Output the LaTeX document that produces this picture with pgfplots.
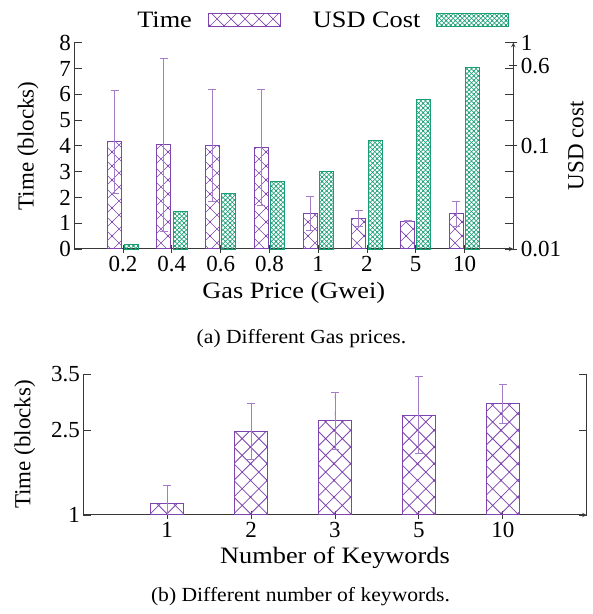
\documentclass[border=0pt]{standalone}
\usepackage{pgfplots}
\pgfplotsset{compat=1.18}
\usepackage{fontspec}
\setmainfont{Liberation Serif}
\newfontfamily\labelfont{Liberation Serif}[FakeStretch=1.12]
\newfontfamily\capfont{Liberation Serif}[FakeStretch=1.08]
\usetikzlibrary{patterns.meta}
\definecolor{tpurple}{HTML}{7E44B0}
\definecolor{tgreen}{HTML}{1A9E74}
\definecolor{axgray}{HTML}{383838}

\pgfdeclarepattern{name=bigxA, type=uncolored,
  bottom left={\pgfpoint{-1pt}{-1pt}}, top right={\pgfpoint{15pt}{15pt}},
  tile size={\pgfpoint{14pt}{14pt}},
  code={\pgfsetlinewidth{0.7pt}
    \pgfpathmoveto{\pgfpoint{-1pt}{-1pt}}\pgfpathlineto{\pgfpoint{15pt}{15pt}}
    \pgfpathmoveto{\pgfpoint{-1pt}{15pt}}\pgfpathlineto{\pgfpoint{15pt}{-1pt}}
    \pgfusepath{stroke}}}
\pgfdeclarepattern{name=bigxB, type=uncolored,
  bottom left={\pgfpoint{-1pt}{-1pt}}, top right={\pgfpoint{17.7pt}{17.7pt}},
  tile size={\pgfpoint{16.7pt}{16.7pt}},
  code={\pgfsetlinewidth{0.8pt}
    \pgfpathmoveto{\pgfpoint{-1pt}{-1pt}}\pgfpathlineto{\pgfpoint{17.7pt}{17.7pt}}
    \pgfpathmoveto{\pgfpoint{-1pt}{17.7pt}}\pgfpathlineto{\pgfpoint{17.7pt}{-1pt}}
    \pgfusepath{stroke}}}
\pgfdeclarepattern{name=smallx, type=uncolored,
  bottom left={\pgfpoint{-1pt}{-1pt}}, top right={\pgfpoint{5.6pt}{5.6pt}},
  tile size={\pgfpoint{4.6pt}{4.6pt}},
  code={\pgfsetlinewidth{0.55pt}
    \pgfpathmoveto{\pgfpoint{-1pt}{-1pt}}\pgfpathlineto{\pgfpoint{5.6pt}{5.6pt}}
    \pgfpathmoveto{\pgfpoint{-1pt}{5.6pt}}\pgfpathlineto{\pgfpoint{5.6pt}{-1pt}}
    \pgfusepath{stroke}}}

\pgfplotsset{
  wide legend/.style={legend image code/.code={\draw[##1] (0pt,-6.5pt) rectangle (72pt,6.5pt);}},
  myaxis/.style={
    scale only axis, anchor=south west,
    font=\fontsize{23}{27}\selectfont,
    tick label style={font=\fontsize{23}{27}\selectfont},
    label style={font=\fontsize{23.5}{28}\labelfont},
    axis line style={-, axgray, line width=1pt},
    tick align=inside, major tick length=8pt,
    tick style={axgray, line width=0.8pt},
  },
}

\begin{document}
\begin{tikzpicture}[x=1pt,y=1pt]
\path[use as bounding box] (0,0) rectangle (593,614);

% ---- (a) left axis: Time ----
\begin{axis}[myaxis,
  at={(74.3pt,365pt)}, width=439pt, height=206.3pt,
  xmin=-1, xmax=8, ymin=0, ymax=8,
  axis x line=bottom, axis y line=box,
  xtick={0,1,2,3,4,5,6,7}, xticklabels={0.2,0.4,0.6,0.8,1,2,5,10},
  ytick={0,1,2,3,4,5,6,7,8}, yticklabels={0,1,2,3,4,5,6,7,8},
  xlabel={Gas Price (Gwei)}, ylabel={Time (blocks)},
  xlabel style={at={(axis description cs:0.5,-0.213)}, anchor=center},
  ylabel style={at={(axis description cs:-0.1055,0.5)}, anchor=center},
]
\addplot[ybar, bar width=0.287, bar shift=0, draw=tpurple, line width=1pt,
  pattern=bigxA, pattern color=tpurple,
  error bars/.cd, y dir=both, y explicit,
  error bar style={draw=tpurple!70, line width=0.9pt},
  error mark=|,
  error mark options={draw=tpurple!70, line width=0.9pt, mark size=4pt}]
  table[x expr=\thisrow{x}-0.167, y=y, y error=e] {
x y e
0 4.15 1.98
1 4.04 3.36
2 4.01 2.17
3 3.95 2.25
4 1.37 0.67
5 1.20 0.31
6 1.08 0.02
7 1.37 0.49
};
\end{axis}

% ---- (a) right axis: USD cost ----
\begin{axis}[myaxis,
  at={(74.3pt,365pt)}, width=439pt, height=206.3pt,
  xmin=-1, xmax=8, ymode=log, ymin=0.01, ymax=1, log origin=infty,
  axis x line=none, axis y line=right,
  ytick={0.01,0.1,0.6,1}, yticklabels={0.01,0.1,0.6,1},
  ylabel={USD cost},
  ylabel style={at={(axis description cs:1.1428,0.5)}, anchor=center},
  legend columns=2, legend plot pos=right,
  legend style={draw=none, fill=none, at={(axis description cs:0.565,1.11)}, anchor=center,
    font=\fontsize{23.5}{28}\labelfont,
    /tikz/every odd column/.append style={column sep=14pt},
    /tikz/every even column/.append style={column sep=30pt}},
]
\addlegendimage{draw=tpurple, line width=1pt, pattern=bigxA, pattern color=tpurple, wide legend}
\addlegendentry{Time}
\addplot[ybar, bar width=0.287, bar shift=0, draw=tgreen, line width=1pt,
  pattern=smallx, pattern color=tgreen, wide legend]
  table[x expr=\thisrow{x}+0.167, y=c] {
x c
0 0.0110
1 0.0233
2 0.0342
3 0.0454
4 0.0562
5 0.113
6 0.283
7 0.573
};
\addlegendentry{USD Cost}
\end{axis}

% ---- (b) ----
\begin{axis}[myaxis,
  at={(83.3pt,99pt)}, width=503.4pt, height=141pt,
  xmin=-1, xmax=5, ymin=1, ymax=3.5,
  axis x line=bottom, axis y line=box,
  xtick={0,1,2,3,4}, xticklabels={1,2,3,5,10},
  ytick={1,2.5,3.5}, yticklabels={1,2.5,3.5},
  xlabel={Number of Keywords}, ylabel={Time (blocks)},
  xlabel style={at={(axis description cs:0.5,-0.305)}, anchor=center},
  ylabel style={at={(axis description cs:-0.116,0.5)}, anchor=center},
]
\addplot[ybar, bar width=0.4, bar shift=0, draw=tpurple, line width=1pt,
  pattern=bigxB, pattern color=tpurple,
  error bars/.cd, y dir=both, y explicit,
  error bar style={draw=tpurple!70, line width=0.9pt},
  error mark=|,
  error mark options={draw=tpurple!70, line width=0.9pt, mark size=4pt}]
  table[x=x, y=y, y error=e] {
x y e
0 1.21 0.32
1 2.48 0.49
2 2.67 0.505
3 2.77 0.68
4 2.97 0.34
};
\end{axis}

\node[font=\fontsize{20}{24}\capfont] at (301.5,275) {(a) Different Gas prices.};
\node[font=\fontsize{20}{24}\capfont] at (300.5,17) {(b) Different number of keywords.};
\end{tikzpicture}
\end{document}
